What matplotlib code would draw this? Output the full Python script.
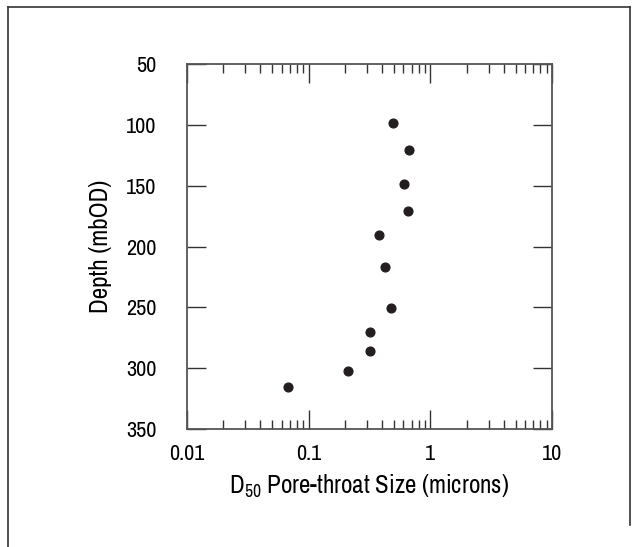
import matplotlib
matplotlib.use('Agg')
import matplotlib.pyplot as plt
from matplotlib import font_manager
from matplotlib.ticker import LogLocator, NullFormatter, FixedLocator
from matplotlib.lines import Line2D

# prefer a narrow sans if one is installed
names = sorted({f.name for f in font_manager.fontManager.ttflist})
narrow = [n for n in names if 'Narrow' in n or 'Condensed' in n]
family = narrow[0] if narrow else 'Liberation Sans'
plt.rcParams['font.family'] = [family, 'DejaVu Sans']
plt.rcParams['mathtext.fontset'] = 'custom'
plt.rcParams['mathtext.rm'] = family
plt.rcParams['mathtext.default'] = 'regular'

# D50 pore-throat size (microns) vs depth (mbOD)
pore_size = [0.495, 0.67, 0.61, 0.65, 0.376, 0.426, 0.474, 0.317, 0.317, 0.21, 0.068]
depth = [98, 120.7, 148.4, 170.9, 190.4, 216.9, 250.2, 270.4, 286, 302.2, 315.1]
x_ticks = [0.01, 0.1, 1, 10]
x_labels = ['0.01', '0.1', '1', '10']
y_ticks = [50, 100, 150, 200, 250, 300, 350]

fig = plt.figure(figsize=(6.36, 5.47), dpi=100)
ax = fig.add_axes([186.7 / 636, 1 - 429 / 547, 365.6 / 636, 364.7 / 547])

ax.plot(pore_size, depth, 'o', color='#231f20', markersize=6.3, clip_on=False)

ax.set_xscale('log')
ax.set_xlim(0.01, 10)
ax.set_ylim(350, 50)
ax.xaxis.set_major_locator(FixedLocator(x_ticks))
ax.set_xticklabels(x_labels)
ax.xaxis.set_minor_locator(LogLocator(base=10, subs=range(2, 10)))
ax.xaxis.set_minor_formatter(NullFormatter())
ax.yaxis.set_major_locator(FixedLocator(y_ticks))

ax.tick_params(axis='both', which='major', direction='in', length=13.5, width=1.0,
               color='#333333', labelsize=16, top=True, right=True)
ax.tick_params(axis='x', which='major', pad=11)
ax.tick_params(axis='y', which='major', pad=22)
ax.tick_params(axis='x', which='minor', direction='in', length=6.5, width=1.0,
               color='#333333', top=True)
for s in ax.spines.values():
    s.set_color('#555555')
    s.set_linewidth(1.3)

ax.set_xlabel('D$_{50}$ Pore-throat Size (microns)', fontsize=18, labelpad=6)
ax.set_ylabel('Depth (mbOD)', fontsize=18, labelpad=10)

# outer frame
frame_kw = dict(color='#333333', linewidth=1.2, transform=fig.transFigure)
fig.add_artist(Line2D([8 / 636, 630 / 636], [1 - 7 / 547, 1 - 7 / 547], **frame_kw))
fig.add_artist(Line2D([8 / 636, 8 / 636], [1 - 7 / 547, 0], **frame_kw))
fig.add_artist(Line2D([630 / 636, 630 / 636], [1 - 7 / 547, 1 - 525 / 547], **frame_kw))

fig.savefig('out.png', dpi=100)
